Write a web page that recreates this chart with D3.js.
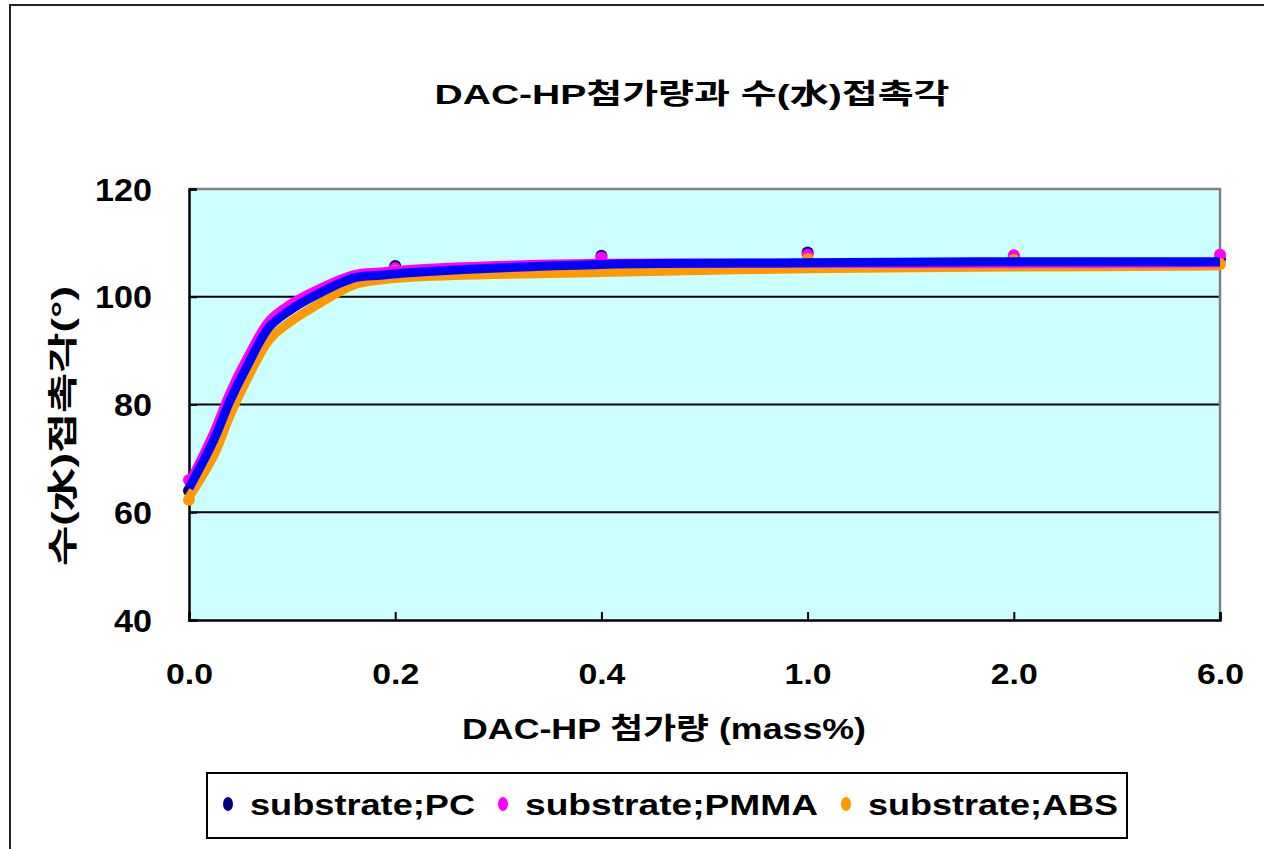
<!DOCTYPE html>
<html>
<head>
<meta charset="utf-8">
<script src="https://cdn.jsdelivr.net/npm/d3@7"></script>
<style>
  body { margin: 0; background: #fff; }
  svg { display: block; }
  text { font-family: "Liberation Sans", Arial, "Noto Sans CJK KR", sans-serif; font-weight: bold; }
</style>
</head>
<body>
<svg width="1264" height="849"></svg>
<script>
// --- dados ---
const categorias = ['0.0', '0.2', '0.4', '1.0', '2.0', '6.0'];
const yTicks = [40, 60, 80, 100, 120];

// pontos medidos
const pcValores   = [64.0, 105.7, 107.6, 108.2, 107.4, 107.0];
const pmmaValores = [66.0, 105.3, 107.3, 107.8, 107.7, 107.8];
const absValores  = [62.3, 104.8, 105.1, 107.0, 106.8, 106.1];

// linhas de tendência (posição em unidades de categoria, valor)
const linhaPos  = [0, 0.12, 0.2, 0.28, 0.39, 0.49, 0.6, 0.8, 0.93, 1.12, 2, 3, 4, 5];
const pcLinha   = [64.5, 73.4, 80.8, 87.0, 94.4, 97.5, 100.0, 103.5, 104.0, 104.6, 106.0, 106.3, 106.5, 106.5];
const pmmaLinha = [65.3, 74.8, 82.3, 88.5, 95.6, 98.6, 100.9, 104.1, 104.6, 105.2, 106.2, 106.2, 106.2, 106.3];
const absLinha  = [62.8, 70.5, 78.0, 84.5, 92.0, 95.3, 98.0, 102.2, 103.1, 103.7, 104.5, 105.2, 105.5, 105.7];

const series = [
  { nome: 'substrate;PC',   pontos: pcValores,   linha: pcLinha,   marcador: '#000080', cor: '#0000FF' },
  { nome: 'substrate;PMMA', pontos: pmmaValores, linha: pmmaLinha, marcador: '#FF00FF', cor: '#FF00FF' },
  { nome: 'substrate;ABS',  pontos: absValores,  linha: absLinha,  marcador: '#FF9900', cor: '#FF9900' }
];

const svg = d3.select('svg');
const plot = { left: 189, right: 1220, top: 189, bottom: 620 };

// borda externa do gráfico
svg.append('rect')
  .attr('x', 10).attr('y', 5).attr('width', 1300).attr('height', 900)
  .attr('fill', 'none').attr('stroke', '#222').attr('stroke-width', 2);

// --- escalas ---
const x = d3.scalePoint().domain(categorias).range([plot.left, plot.right]);
const xIdx = d3.scaleLinear().domain([0, categorias.length - 1]).range([plot.left, plot.right]);
const y = d3.scaleLinear().domain([40, 120]).range([plot.bottom, plot.top]);

// fundo da área de plotagem
svg.append('rect')
  .attr('x', plot.left).attr('y', plot.top)
  .attr('width', plot.right - plot.left).attr('height', plot.bottom - plot.top)
  .attr('fill', '#CCFFFF');

// grade
svg.append('g')
  .selectAll('line')
  .data(yTicks.filter(d => d > 40 && d < 120))
  .join('line')
    .attr('x1', plot.left).attr('x2', plot.right)
    .attr('y1', d => y(d)).attr('y2', d => y(d))
    .attr('stroke', '#000').attr('stroke-width', 2);

// borda superior e direita em cinza
svg.append('path')
  .attr('d', `M${plot.left},${plot.top}H${plot.right}V${plot.bottom}`)
  .attr('fill', 'none').attr('stroke', '#808080').attr('stroke-width', 2.5);

// --- eixos ---
const eixoY = svg.append('g')
  .attr('transform', `translate(${plot.left},0)`)
  .call(d3.axisLeft(y).tickValues(yTicks).tickSize(-8).tickPadding(37).tickFormat(d3.format('d')));
eixoY.select('.domain').attr('stroke', '#000').attr('stroke-width', 2.5);
eixoY.selectAll('.tick line').attr('stroke', '#000').attr('stroke-width', 2);
eixoY.selectAll('text')
  .attr('fill', '#000')
  .style('font-size', '31px')
  .attr('dy', '0.36em')
  .attr('textLength', d => String(d).length * 19)
  .attr('lengthAdjust', 'spacingAndGlyphs');

const eixoX = svg.append('g')
  .attr('transform', `translate(0,${plot.bottom})`)
  .call(d3.axisBottom(x).tickSize(-8).tickPadding(0));
eixoX.select('.domain').attr('stroke', '#000').attr('stroke-width', 2.5);
eixoX.selectAll('.tick line').attr('stroke', '#000').attr('stroke-width', 2);
eixoX.selectAll('text')
  .attr('fill', '#000')
  .attr('y', 64).attr('dy', 0)
  .style('font-size', '30px')
  .attr('textLength', 47).attr('lengthAdjust', 'spacingAndGlyphs');

// --- marcadores ---
series.forEach(s => {
  svg.append('g')
    .selectAll('circle')
    .data(s.pontos)
    .join('circle')
      .attr('cx', (d, i) => x(categorias[i]))
      .attr('cy', d => y(d))
      .attr('r', 6)
      .attr('fill', s.marcador);
});

// --- linhas de tendência (ABS, PMMA, PC) ---
const linha = d3.line()
  .x(d => xIdx(d[0]))
  .y(d => y(d[1]))
  .curve(d3.curveCatmullRom.alpha(0.5));

series.slice().reverse().forEach(s => {
  svg.append('path')
    .datum(linhaPos.map((p, i) => [p, s.linha[i]]))
    .attr('d', linha)
    .attr('fill', 'none')
    .attr('stroke', s.cor)
    .attr('stroke-width', 9)
    .attr('stroke-linejoin', 'round');
});

// --- títulos ---
svg.append('text')
  .attr('x', 692).attr('y', 104)
  .attr('text-anchor', 'middle')
  .style('font-size', '28px')
  .attr('textLength', 515).attr('lengthAdjust', 'spacingAndGlyphs')
  .text('DAC-HP첨가량과 수(水)접촉각');

svg.append('text')
  .attr('x', 664).attr('y', 739)
  .attr('text-anchor', 'middle')
  .style('font-size', '29px')
  .attr('textLength', 404).attr('lengthAdjust', 'spacingAndGlyphs')
  .text('DAC-HP 첨가량 (mass%)');

svg.append('text')
  .attr('transform', 'translate(73,426) rotate(-90)')
  .attr('text-anchor', 'middle')
  .style('font-size', '30px')
  .attr('textLength', 280).attr('lengthAdjust', 'spacingAndGlyphs')
  .text('수(水)접촉각(°)');

// --- legenda ---
svg.append('rect')
  .attr('x', 207).attr('y', 773).attr('width', 920).attr('height', 65)
  .attr('fill', '#fff').attr('stroke', '#000').attr('stroke-width', 2);

const legX = [228, 503, 846];
const legLarg = [225, 293, 250];
const leg = svg.append('g')
  .selectAll('g')
  .data(series)
  .join('g')
    .attr('transform', (d, i) => `translate(${legX[i]},804)`);

leg.append('ellipse')
  .attr('rx', 5).attr('ry', 7)
  .attr('fill', d => d.marcador);

leg.append('text')
  .attr('x', 22).attr('y', 11)
  .style('font-size', '30px')
  .attr('textLength', (d, i) => legLarg[i]).attr('lengthAdjust', 'spacingAndGlyphs')
  .text(d => d.nome);
</script>
</body>
</html>
